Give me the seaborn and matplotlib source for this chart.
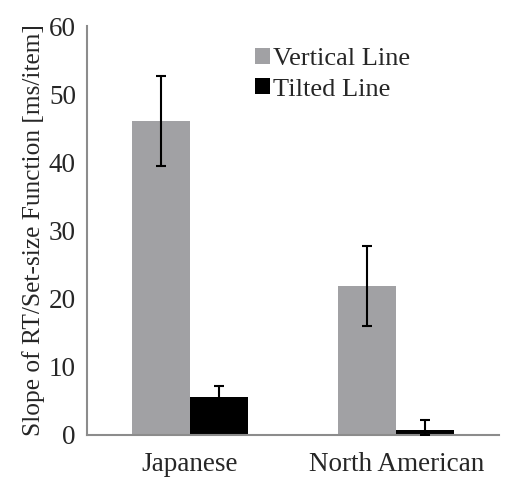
import numpy as np
import pandas as pd
import matplotlib
matplotlib.use("Agg")
import matplotlib.pyplot as plt
import seaborn as sns

# data
groups = ["Japanese", "North American"]
conditions = ["Vertical Line", "Tilted Line"]
vertical = [46.1, 21.9]
tilted = [5.6, 0.8]
vertical_err = [6.6, 5.9]
tilted_err = [1.6, 1.45]

sns.set_style("white")
plt.rcParams["font.family"] = ["Liberation Serif", "DejaVu Serif"]

df = pd.DataFrame({
    "group": groups * 2,
    "condition": [conditions[0]] * 2 + [conditions[1]] * 2,
    "slope": vertical + tilted,
})

fig = plt.figure(figsize=(5.12, 4.83), dpi=100)
ax = fig.add_axes([0.170, 0.0994, 0.805, 0.8466])

sns.barplot(data=df, x="group", y="slope", hue="condition",
            palette=["#a0a1a5", "#000000"], width=0.56, gap=0,
            errorbar=None, edgecolor="none", linewidth=0, ax=ax)

# error bars on top of each bar (lower part clipped at zero)
for cont, vals, e in zip(ax.containers, [vertical, tilted], [vertical_err, tilted_err]):
    for bar, v, s in zip(cont, vals, e):
        xc = bar.get_x() + bar.get_width() / 2
        ax.errorbar(xc, v, yerr=[[min(s, v)], [s]], fmt="none", ecolor="black",
                    elinewidth=1.5, capsize=3.5, capthick=1.5, zorder=5)

ax.set_ylim(0, 60)
ax.set_xlim(-0.5, 1.5)
ax.set_yticks(range(0, 61, 10))
ax.set_xticks([0, 1])
ax.set_xticklabels(groups)
ax.set_xticks([-0.5, 0.5, 1.5], minor=True)
ax.tick_params(axis="x", which="major", length=0, labelsize=19.5, pad=12)
ax.tick_params(axis="x", which="minor", length=5, width=1.2, color="#8c8c8c", direction="out")
ax.tick_params(axis="y", length=5, width=1.2, color="#8c8c8c", direction="out", labelsize=19.5, pad=3)
ax.set_xlabel("")
ax.set_ylabel("Slope of RT/Set-size Function [ms/item]", fontsize=18.3, labelpad=3)

for side in ["top", "right"]:
    ax.spines[side].set_visible(False)
for side in ["left", "bottom"]:
    ax.spines[side].set_color("#8c8c8c")
    ax.spines[side].set_linewidth(1.5)

ax.legend(loc="upper left", bbox_to_anchor=(0.383, 0.972), frameon=False, fontsize=19,
          handlelength=0.55, handleheight=0.55, handletextpad=0.12, labelspacing=0.3,
          borderaxespad=0)

fig.savefig("out.png", dpi=100)
